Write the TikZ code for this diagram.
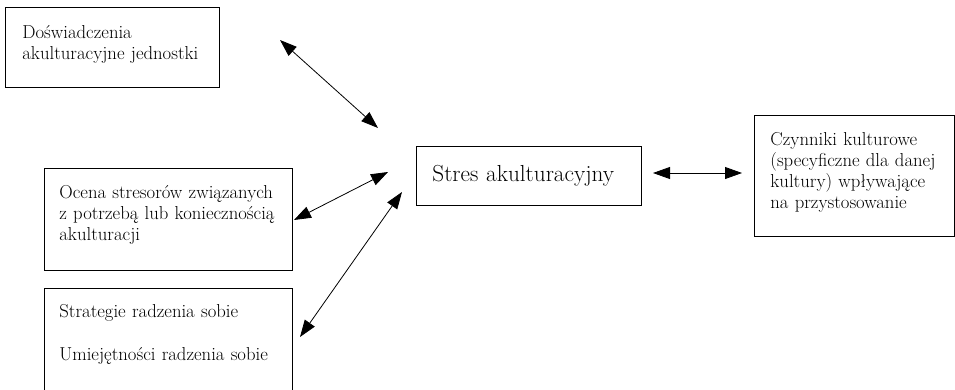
\documentclass[tikz,border=0pt]{standalone}
\usepackage{tikz}
\usetikzlibrary{arrows.meta}
\tikzset{
  boxnode/.style={draw, rectangle, line width=0.8pt, anchor=north west, align=left, inner ysep=0pt, font=\fontsize{18.7}{21}\selectfont},
  arrow/.style={line width=0.8pt, {Triangle[length=17pt,width=12pt]}-{Triangle[length=17pt,width=12pt]}}
}

\begin{document}
\begin{tikzpicture}[x=1pt, y=-1pt]
  \clip (0,0) rectangle (955,389);
  \node [boxnode, inner xsep=17pt, text width=180pt, text height=31pt, text depth=49pt] (doswiad) at (5,7) {Doświadczenia\\akulturacyjne jednostki};
  \node [boxnode, inner xsep=15pt, text width=218pt, text height=30pt, text depth=72pt] (ocena) at (44,168) {Ocena stresorów związanych\\z potrzebą lub koniecznością\\akulturacji};
  \node [boxnode, inner xsep=15pt, text width=218pt, text height=29pt, text depth=110pt] (strategie) at (44,288) {Strategie radzenia sobie\\[22pt]Umiejętności radzenia sobie};
  \node [boxnode, inner xsep=16pt, text width=193pt, text height=35pt, text depth=24pt, font=\fontsize{23.2}{27}\selectfont] (stres) at (416,146) {Stres akulturacyjny};
  \node [boxnode, inner xsep=16pt, text width=168pt, text height=30pt, text depth=91pt] (czynniki) at (754,115) {Czynniki kulturowe\\(specyficzne dla danej\\kultury) wpływające\\na przystosowanie};

  % free ends of the connectors
  \coordinate (doswiad-end) at (280,40);
  \coordinate (stres-a) at (378,128);
  \coordinate (ocena-end) at (294,220);
  \coordinate (stres-b) at (388,172);
  \coordinate (strategie-end) at (300,337);
  \coordinate (stres-c) at (402,192);
  \coordinate (stres-d) at (653,173);
  \coordinate (czynniki-end) at (742,173);

  \draw [arrow] (doswiad-end) -- (stres-a);
  \draw [arrow] (ocena-end) -- (stres-b);
  \draw [arrow] (strategie-end) -- (stres-c);
  \draw [arrow] (stres-d) -- (czynniki-end);
\end{tikzpicture}
\end{document}
